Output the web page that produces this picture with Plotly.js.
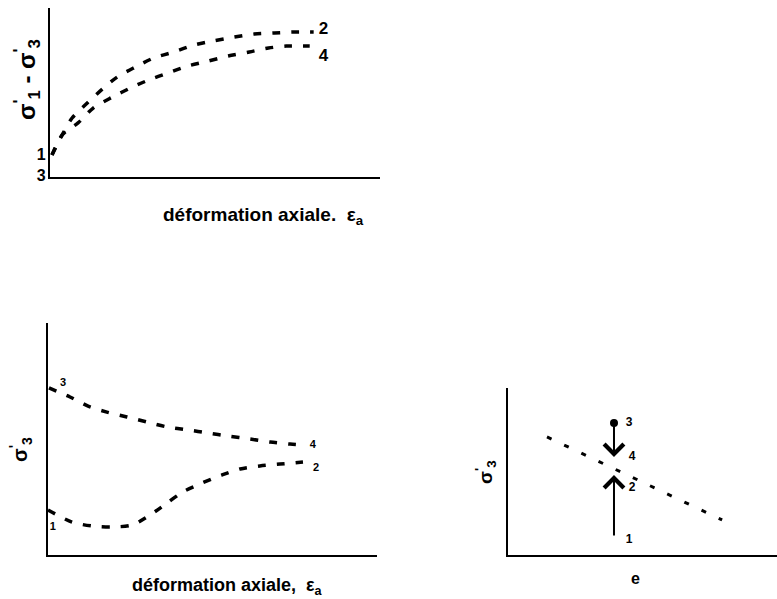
<!DOCTYPE html>
<html>
<head>
<meta charset="utf-8">
<script src="https://cdn.plot.ly/plotly-3.0.1.min.js"></script>
<style>html,body{margin:0;padding:0;background:#fff;}#chart{width:777px;height:599px;}</style>
</head>
<body>
<div id="chart"></div>
<script>
// Panel 1: deviator stress vs axial strain
const p1_path2_x = [0.06, 0.37, 0.67, 1.13, 1.59, 2.04, 2.59, 3.14, 3.75, 4.36, 4.94, 5.58, 6.19, 6.80, 7.41, 7.99];
const p1_path2_y = [1.30, 2.49, 3.49, 4.38, 5.21, 5.92, 6.51, 7.04, 7.40, 7.81, 8.05, 8.28, 8.46, 8.52, 8.58, 8.58];
const p1_path4_x = [0.06, 0.37, 0.85, 1.31, 1.89, 2.44, 2.99, 3.57, 4.18, 4.79, 5.40, 6.04, 6.62, 7.16, 7.87];
const p1_path4_y = [1.30, 2.49, 3.20, 4.08, 4.73, 5.27, 5.74, 6.15, 6.57, 6.86, 7.16, 7.40, 7.63, 7.75, 7.75];
const p1_labels_left = ["1", "3"];
const p1_label_left_y = [1.24, -0.10];
const p1_labels_right = ["2", "4"];
const p1_label_right_x = [8.29, 8.29];
const p1_label_right_y = [8.70, 7.10];

// Panel 2: sigma'3 vs axial strain
const p2_path34_x = [0.03, 0.67, 1.22, 1.79, 2.40, 3.01, 3.62, 4.26, 4.86, 5.47, 6.14, 6.75, 7.36, 7.75];
const p2_path34_y = [7.20, 6.81, 6.42, 6.16, 5.95, 5.73, 5.52, 5.39, 5.26, 5.13, 5.00, 4.87, 4.78, 4.74];
const p2_path12_x = [0.00, 0.73, 1.34, 1.95, 2.55, 3.10, 3.62, 4.10, 4.68, 5.29, 5.84, 6.44, 7.05, 7.75];
const p2_path12_y = [1.94, 1.42, 1.25, 1.21, 1.29, 1.72, 2.24, 2.72, 3.10, 3.45, 3.71, 3.84, 3.92, 4.01];
const p2_labels = ["3", "4", "1", "2"];
const p2_label_x = [0.46, 8.05, 0.15, 8.15];
const p2_label_y = [7.41, 4.74, 1.21, 3.75];

// Panel 3: sigma'3 vs void ratio e
const p3_line_x = [1.45, 7.96];
const p3_line_y = [7.07, 2.10];
const p3_point3 = [3.94, 7.90];
const p3_arrow_down = {x: 3.94, from: 7.90, to: 5.87};
const p3_arrow_up = {x: 3.94, from: 1.08, to: 4.79};
const p3_labels = ["3", "4", "2", "1"];
const p3_label_x = [4.50, 4.61, 4.61, 4.50];
const p3_label_y = [7.90, 5.87, 4.01, 0.90];

const FONT = "Liberation Sans, Arial, sans-serif";
const dashLine = {color: "#000", width: 3.5, dash: "8px,11px", shape: "spline", smoothing: 0.8};

function labelTrace(labels, xs, ys, xa, ya, size, pos, pad) {
  return {x: xs, y: ys, text: labels.map(t => "<b>" + t + "</b>" + (pad || "")), xaxis: xa, yaxis: ya, mode: "text",
    textposition: pos || "middle center", textfont: {family: FONT, size: size, color: "#000"},
    cliponaxis: false, showlegend: false, hoverinfo: "skip"};
}

const traces = [
  {x: p1_path2_x, y: p1_path2_y, xaxis: "x", yaxis: "y", mode: "lines", line: dashLine, showlegend: false, hoverinfo: "skip"},
  {x: p1_path4_x, y: p1_path4_y, xaxis: "x", yaxis: "y", mode: "lines", line: dashLine, showlegend: false, hoverinfo: "skip"},
  {x: p2_path34_x, y: p2_path34_y, xaxis: "x2", yaxis: "y2", mode: "lines", line: dashLine, showlegend: false, hoverinfo: "skip"},
  {x: p2_path12_x, y: p2_path12_y, xaxis: "x2", yaxis: "y2", mode: "lines", line: dashLine, showlegend: false, hoverinfo: "skip"},
  {x: p3_line_x, y: p3_line_y, xaxis: "x3", yaxis: "y3", mode: "lines", line: {color: "#000", width: 3, dash: "5px,14px"}, showlegend: false, hoverinfo: "skip"},
  {x: [p3_point3[0]], y: [p3_point3[1]], xaxis: "x3", yaxis: "y3", mode: "markers", marker: {color: "#000", size: 8}, showlegend: false, hoverinfo: "skip", cliponaxis: false},
  labelTrace(p1_labels_left, [0, 0], [p1_label_left_y[0], 0], "x", "y", 16, "middle left", "\u00a0"),
  labelTrace(p1_labels_right, p1_label_right_x, p1_label_right_y, "x", "y", 17),
  labelTrace(p2_labels, p2_label_x, p2_label_y, "x2", "y2", 11),
  labelTrace(p3_labels, p3_label_x, p3_label_y, "x3", "y3", 12)
];

function ax(domain) {
  return {domain: domain, range: [0, 10], showline: true, linewidth: 2, linecolor: "#000",
          showgrid: false, zeroline: false, showticklabels: false, ticks: "", fixedrange: true};
}

const annotations = [];
[p3_arrow_down, p3_arrow_up].forEach(a => annotations.push({
  x: a.x, y: a.to, ax: a.x, ay: a.from, xref: "x3", yref: "y3", axref: "x3", ayref: "y3",
  text: "", showarrow: true, arrowhead: 4, arrowsize: 1.9, arrowwidth: 2, arrowcolor: "#000"
}));

function title(text, px, py, size, angle) {
  annotations.push({text: text, x: px / 777, y: 1 - py / 599, xref: "paper", yref: "paper",
    xanchor: "center", yanchor: "middle",
    showarrow: false, textangle: angle || 0, font: {family: FONT, size: size, color: "#000"}});
}
title("<b>déformation axiale.  ε<sub>a</sub></b>", 263, 216, 19);
title("<b>déformation axiale,  ε<sub>a</sub></b>", 227, 586, 18);
title("<b>e</b>", 635, 578, 16);
title("<b>σ<sup>'</sup><sub>1</sub> - σ<sup>'</sup><sub>3</sub></b>", 27, 80, 24, -90);
title("<b>σ<sup>'</sup><sub>3</sub></b>", 20, 450, 20, -90);
title("<b>σ<sup>'</sup><sub>3</sub></b>", 485, 472, 19, -90);

const layout = {
  width: 777, height: 599,
  margin: {l: 0, r: 0, t: 0, b: 0},
  paper_bgcolor: "#fff", plot_bgcolor: "#fff",
  showlegend: false,
  xaxis: Object.assign(ax([50/777, 380/777]), {anchor: "y"}),
  yaxis: Object.assign(ax([1 - 177/599, 1 - 8/599]), {anchor: "x"}),
  xaxis2: Object.assign(ax([48/777, 377/777]), {anchor: "y2"}),
  yaxis2: Object.assign(ax([1 - 555/599, 1 - 323/599]), {anchor: "x2"}),
  xaxis3: Object.assign(ax([508/777, 1]), {anchor: "y3"}),
  yaxis3: Object.assign(ax([1 - 555/599, 1 - 388/599]), {anchor: "x3"}),
  annotations: annotations
};

Plotly.newPlot("chart", traces, layout, {displayModeBar: false, staticPlot: true});
</script>
</body>
</html>
